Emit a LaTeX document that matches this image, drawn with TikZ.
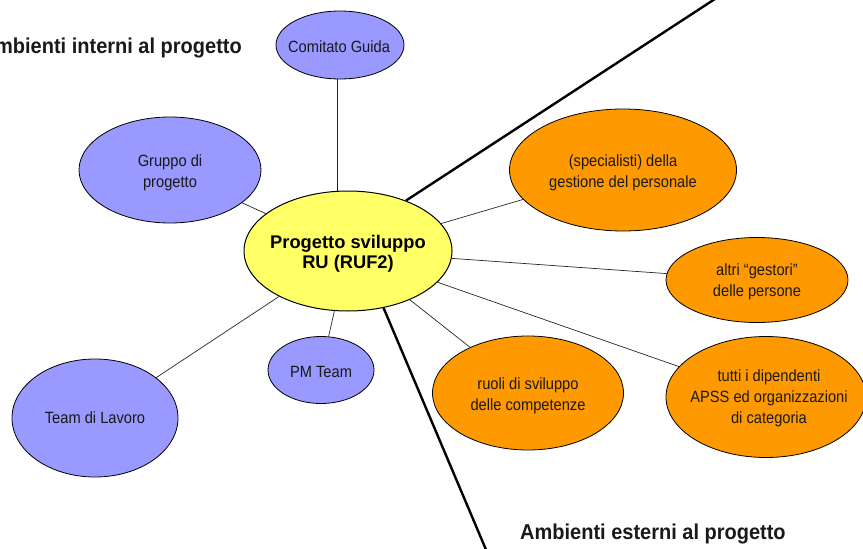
\documentclass[tikz,border=0pt]{standalone}
\usepackage{fontspec}
\setmainfont{Liberation Sans}
\newfontfamily\bubblefont[FakeStretch=0.9]{Liberation Sans}
\newfontfamily\titlefont[FakeStretch=0.93]{Liberation Sans}
\usetikzlibrary{shapes.geometric,backgrounds}

\definecolor{innerblue}{HTML}{9999FF}
\definecolor{outerorange}{HTML}{FF9900}
\definecolor{coreyellow}{HTML}{FFFF66}

\begin{document}
\begin{tikzpicture}[x=1pt,y=-1pt,
  bubble/.style={ellipse, draw=black, line width=0.8pt, inner sep=0pt},
  innerbubble/.style={bubble, fill=innerblue},
  outerbubble/.style={bubble, fill=outerorange},
  corebubble/.style={bubble, fill=coreyellow, line width=1pt},
  caption/.style={font=\bubblefont\fontsize{16.3}{21}\selectfont, align=center, inner sep=0pt, text=black!90},
  corecaption/.style={font=\bfseries\fontsize{18.3}{20}\selectfont, align=center, inner sep=0pt},
  areatitle/.style={font=\titlefont\bfseries\fontsize{21.5}{24}\selectfont, inner sep=0pt, text=black!90},
  link/.style={line width=0.7pt, draw=black!85},
  divider/.style={line width=2.4pt, line cap=butt},
  ]
\useasboundingbox (0,0) rectangle (863,549);
\clip (0,0) rectangle (863,549);

% central project
\node[corebubble, minimum width=208, minimum height=120] (core) at (348,251) {};
\node[corecaption] (core-t) at (348,254) {Progetto sviluppo\\RU (RUF2)};

% internal environment
\node[innerbubble, minimum width=128, minimum height=68] (guida) at (340,45) {};
\node[caption] (guida-t) at (339,47) {Comitato Guida};
\node[innerbubble, minimum width=182, minimum height=106] (gruppo) at (170,170) {};
\node[caption] (gruppo-t) at (170,173) {Gruppo di\\progetto};
\node[innerbubble, minimum width=166, minimum height=118] (lavoro) at (95,418) {};
\node[caption] (lavoro-t) at (95,418) {Team di Lavoro};
\node[innerbubble, minimum width=106, minimum height=67] (pm) at (321,370) {};
\node[caption] (pm-t) at (321,372) {PM Team};

% external environment
\node[outerbubble, minimum width=227, minimum height=122] (spec) at (623,170) {};
\node[caption] (spec-t) at (623,173) {(specialisti) della\\gestione del personale};
\node[outerbubble, minimum width=182, minimum height=85] (altri) at (757,280) {};
\node[caption] (altri-t) at (757,282) {altri “gestori”\\delle persone};
\node[outerbubble, minimum width=191, minimum height=114] (ruoli) at (528,393) {};
\node[caption] (ruoli-t) at (528,396) {ruoli di sviluppo\\delle competenze};
\node[outerbubble, minimum width=200, minimum height=121] (tutti) at (766,397) {};
\node[caption] (tutti-t) at (769,398) {tutti i dipendenti\\APSS ed organizzazioni\\di categoria};

% area titles
\node[areatitle, anchor=base east] (interni) at (242,53) {Ambienti interni al progetto};
\node[areatitle, anchor=base west] (esterni) at (520,539) {Ambienti esterni al progetto};

% connectors and dividing lines
\coordinate (div-top) at (718,-3);
\coordinate (div-bottom) at (487,552);
\begin{scope}[on background layer]
  \draw[link] ([xshift=-3pt]guida.south) -- ([xshift=-3pt]guida.south |- core.north);
  \draw[link] (gruppo) -- (core);
  \draw[link] (lavoro) -- (core);
  \draw[link] (pm) -- (core);
  \draw[link] (core) -- (spec);
  \draw[link] (core) -- (altri);
  \draw[link] (core) -- (ruoli);
  \draw[link] (core) -- (tutti);
  \draw[divider] (core.41) -- (div-top);
  \draw[divider] (core.-58) -- (div-bottom);
\end{scope}
\end{tikzpicture}
\end{document}
